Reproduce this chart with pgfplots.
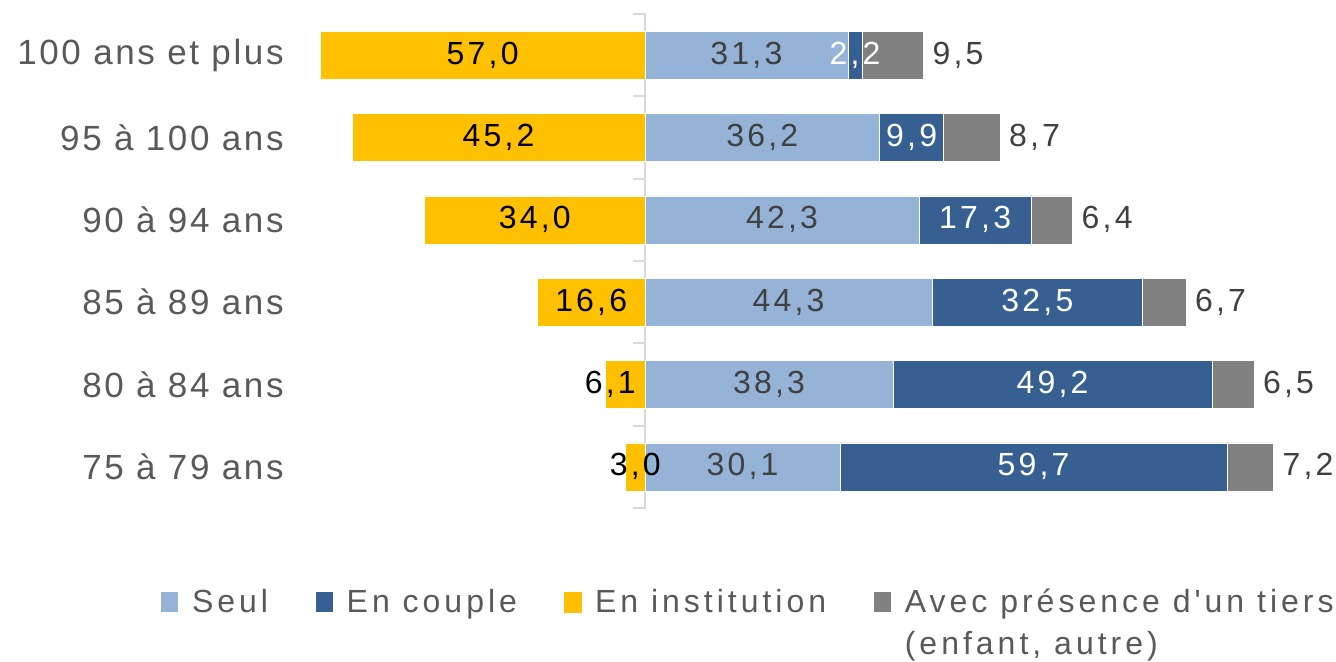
\documentclass[border=0pt]{standalone}
\usepackage{fontspec}
\setmainfont{Liberation Sans}
\newfontfamily\catfont{Liberation Sans}[LetterSpace=7.5]
\newfontfamily\barfont{Liberation Sans}[LetterSpace=10]
\newfontfamily\legfont{Liberation Sans}[LetterSpace=12.5]
\usepackage{pgfplots}
\usepackage{pgfplotstable}
\pgfplotsset{compat=1.18}
\definecolor{seul}{HTML}{95B3D7}
\definecolor{couple}{HTML}{376092}
\definecolor{inst}{HTML}{FFC000}
\definecolor{tiers}{HTML}{808080}
\definecolor{txt}{HTML}{595959}
\definecolor{labc}{HTML}{404040}
\definecolor{axgray}{HTML}{D9D9D9}

% institution (bar drawn as in the reference; labels as printed; off = label offset)
\pgfplotstableread{
y v lab off
5 -50.1 57,0 0
4 -45.2 45,2 0
3 -34.0 34,0 0
2 -16.6 16,6 0
1 -6.1 6,1 4.6
0 -3.0 3,0 0
}\instdata
\pgfplotstableread{
y v lab
5 31.3 31,3
4 36.2 36,2
3 42.3 42,3
2 44.3 44,3
1 38.3 38,3
0 30.1 30,1
}\seuldata
\pgfplotstableread{
y v lab
5 2.2 2,2
4 9.9 9,9
3 17.3 17,3
2 32.5 32,5
1 49.2 49,2
0 59.7 59,7
}\coupledata
\pgfplotstableread{
y v lab
5 9.5 9,5
4 8.7 8,7
3 6.4 6,4
2 6.7 6,7
1 6.5 6,5
0 7.2 7,2
}\tiersdata

\pgfplotsset{
  base/.style={scale only axis, width=518.4pt, height=247pt,
    xmin=-55, xmax=105, ymin=-0.5, ymax=5.5, clip=false,
    every node near coord/.style={anchor=center, xshift={-1.62pt*\myv},
      font=\barfont\fontsize{16}{19}\selectfont}},
}

\begin{document}
\begin{tikzpicture}
\useasboundingbox (-144.3pt,-76.5pt) rectangle (523.7pt,254pt);
\draw[axgray, line width=1pt] (178.2pt,0pt) -- (178.2pt,247pt);
\foreach \i in {0,...,6} \draw[axgray, line width=1pt] (178.7pt,\i*41.1667pt) -- ++(-6.5pt,0pt);

\begin{axis}[base, xbar stacked, bar width=24pt,
  axis line style={draw=none}, xtick=\empty, ytick={0,...,5},
  yticklabels={75 à 79 ans, 80 à 84 ans, 85 à 89 ans, 90 à 94 ans, 95 à 100 ans, 100 ans et plus},
  major tick length=0pt,
  yticklabel style={font=\catfont\fontsize{17.5}{20}\selectfont, text=txt, inner sep=0pt, xshift=-2.3pt},
  legend columns=4,
  legend image code/.code={\fill[#1] (0pt,0pt) rectangle (9pt,10.5pt); \path (13.5pt,0pt);},
  legend style={draw=none, fill=none, at={(-0.124,-0.156)}, anchor=north west, inner sep=0pt,
    font=\legfont\fontsize{16}{21}\selectfont, text=txt,
    cells={anchor=base west},
    /tikz/every even column/.append style={column sep=21.5pt}},
]
\addplot[fill=seul, draw=white, line width=0.3pt,
  nodes near coords={\textcolor{labc}{\pgfplotspointmeta}}, point meta=explicit symbolic,
  visualization depends on={0 \as \myv}] table[x=v, y=y, meta=lab] {\seuldata};
\addlegendentry{Seul}
\addplot[fill=couple, draw=white, line width=0.3pt,
  nodes near coords={\textcolor{white}{\pgfplotspointmeta}}, point meta=explicit symbolic,
  visualization depends on={0 \as \myv}] table[x=v, y=y, meta=lab] {\coupledata};
\addlegendentry{En couple}
\addlegendimage{fill=inst, draw=none}
\addlegendentry{En institution}
\addplot[fill=tiers, draw=white, line width=0.3pt,
  nodes near coords={\rlap{\hspace{4.5pt}\textcolor{labc}{\pgfplotspointmeta}}}, point meta=explicit symbolic,
  visualization depends on={-\thisrow{v} \as \myv}] table[x=v, y=y, meta=lab] {\tiersdata};
\addlegendentry{\smash{\begin{tabular}[t]{@{}l@{}}Avec présence d'un tiers\\(enfant, autre)\end{tabular}}}
\end{axis}

\begin{axis}[base, hide axis, xbar, bar width=24pt]
\addplot[fill=inst, draw=white, line width=0.3pt,
  nodes near coords={\textcolor{black}{\pgfplotspointmeta}}, point meta=explicit symbolic,
  visualization depends on={\thisrow{v}+\thisrow{off} \as \myv}] table[x=v, y=y, meta=lab] {\instdata};
\end{axis}
\end{tikzpicture}
\end{document}
